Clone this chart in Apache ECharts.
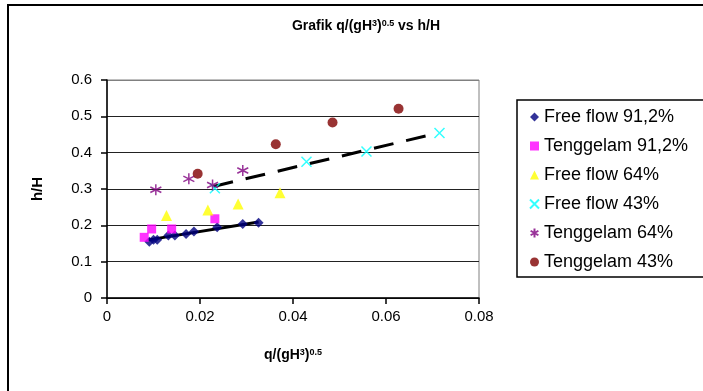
<!DOCTYPE html>
<html><head><meta charset="utf-8">
<script src="https://cdn.jsdelivr.net/npm/echarts@6/dist/echarts.min.js"></script>
<style>html,body{margin:0;padding:0;background:#fff}#c{width:703px;height:391px}</style>
</head><body><div id="c"></div>
<script>
const xTicks = [0, 0.02, 0.04, 0.06, 0.08];
const yTicks = [0, 0.1, 0.2, 0.3, 0.4, 0.5, 0.6];
const seriesNames = ['Free flow 91,2%', 'Tenggelam 91,2%', 'Free flow 64%', 'Free flow 43%', 'Tenggelam 64%', 'Tenggelam 43%'];
const freeFlow912 = [[0.0091,0.155],[0.0100,0.160],[0.0108,0.160],[0.0132,0.172],[0.0146,0.172],[0.0170,0.176],[0.0187,0.183],[0.0237,0.195],[0.0292,0.204],[0.0326,0.207]];
const tenggelam912 = [[0.0080,0.167],[0.0096,0.190],[0.0139,0.190],[0.0232,0.218]];
const freeFlow64 = [[0.0128,0.227],[0.0217,0.242],[0.0282,0.259],[0.0372,0.290]];
const freeFlow43 = [[0.0232,0.302],[0.0429,0.375],[0.0558,0.403],[0.0715,0.454]];
const tenggelam64 = [[0.0105,0.298],[0.0176,0.328],[0.0227,0.311],[0.0292,0.351]];
const tenggelam43 = [[0.0195,0.342],[0.0363,0.423],[0.0485,0.483],[0.0627,0.521]];
const trendSolid = [[0.0089,0.160],[0.0326,0.209]];
const trendDashed = [[0.0229,0.307],[0.0712,0.454]];

const FONT = 'Liberation Sans, Arial, sans-serif';
const chart = echarts.init(document.getElementById('c'), null, {renderer:'canvas'});
const asterisk = 'path://M0,-5L0,5M-4.33,-2.5L4.33,2.5M-4.33,2.5L4.33,-2.5';
const cross = 'path://M-4,-4L4,4M-4,4L4,-4';
const supRich = {
  a:{fontSize:14,fontWeight:'bold',fontFamily:FONT,color:'#000',lineHeight:18,verticalAlign:'top'},
  s:{fontSize:9,fontWeight:'bold',fontFamily:FONT,color:'#000',lineHeight:10,verticalAlign:'top'}
};
chart.setOption({
  animation:false,
  title:{
    text:'{a|Grafik q/(gH}{s|3}{a|)}{s|0.5}{a| vs h/H}',
    left:361, top:14, textAlign:'center',
    textStyle:{rich:supRich}
  },
  graphic:[
    {type:'rect', shape:{x:8,y:5,width:900,height:600}, style:{fill:'none',stroke:'#000',lineWidth:2}, silent:true},
    {type:'rect', shape:{x:517,y:100,width:400,height:177}, style:{fill:'none',stroke:'#000',lineWidth:1.5}, silent:true}
  ],
  grid:{left:107, top:80, width:372, height:218, show:true, borderColor:'#808080', borderWidth:1, backgroundColor:'transparent'},
  legend:{
    orient:'vertical', left:524, top:103, itemGap:11, itemWidth:9, itemHeight:9,
    data:seriesNames,
    textStyle:{fontSize:18, fontFamily:FONT, color:'#000', lineHeight:18}
  },
  xAxis:{
    type:'value', min:0, max:0.08, interval:0.02,
    axisLine:{show:true, onZero:false, lineStyle:{color:'#000',width:1.5}},
    axisTick:{show:true, inside:false, length:6, lineStyle:{color:'#000',width:1.5}},
    axisLabel:{fontSize:15, fontFamily:FONT, color:'#000', margin:11, formatter:v=>String(xTicks.find(t=>Math.abs(t-v)<1e-9) ?? v)},
    splitLine:{show:false},
    name:'{a|q/(gH}{s|3}{a|)}{s|0.5}', nameLocation:'middle', nameGap:50,
    nameTextStyle:{rich:supRich}
  },
  yAxis:{
    type:'value', min:0, max:0.6, interval:0.1,
    axisLine:{show:true, onZero:false, lineStyle:{color:'#000',width:1.5}},
    axisTick:{show:true, inside:false, length:6, lineStyle:{color:'#000',width:1.5}},
    axisLabel:{fontSize:15, fontFamily:FONT, color:'#000', margin:15, formatter:v=>String(yTicks.find(t=>Math.abs(t-v)<1e-9) ?? v)},
    splitLine:{show:true, lineStyle:{color:['#222','#222','#222','#222','#222','#222','#808080'], width:1}},
    name:'h/H', nameLocation:'middle', nameGap:62,
    nameTextStyle:{fontSize:15, fontWeight:'bold', fontFamily:FONT, color:'#000'}
  },
  series:[
    {name:'trend1', type:'line', data:trendSolid, symbol:'none', lineStyle:{color:'#000',width:3}, z:3, silent:true},
    {name:'trend2', type:'line', data:trendDashed, symbol:'none', lineStyle:{color:'#000',width:3,type:[20,13]}, z:3, silent:true},
    {name:seriesNames[0], type:'scatter', data:freeFlow912, symbol:'diamond', symbolSize:10, itemStyle:{color:'#000080'}, z:4},
    {name:seriesNames[1], type:'scatter', data:tenggelam912, symbol:'rect', symbolSize:9, itemStyle:{color:'#FF00FF'}, z:4},
    {name:seriesNames[2], type:'scatter', data:freeFlow64, symbol:'triangle', symbolSize:11, itemStyle:{color:'#FFFF00'}, z:4},
    {name:seriesNames[3], type:'scatter', data:freeFlow43, symbol:cross, symbolSize:10, itemStyle:{color:'#00FFFF',borderColor:'#00FFFF',borderWidth:1.5}, z:4},
    {name:seriesNames[4], type:'scatter', data:tenggelam64, symbol:asterisk, symbolSize:11, itemStyle:{color:'#800080',borderColor:'#800080',borderWidth:1.5}, z:4},
    {name:seriesNames[5], type:'scatter', data:tenggelam43, symbol:'circle', symbolSize:10, itemStyle:{color:'#800000'}, z:4}
  ]
});
</script></body></html>
